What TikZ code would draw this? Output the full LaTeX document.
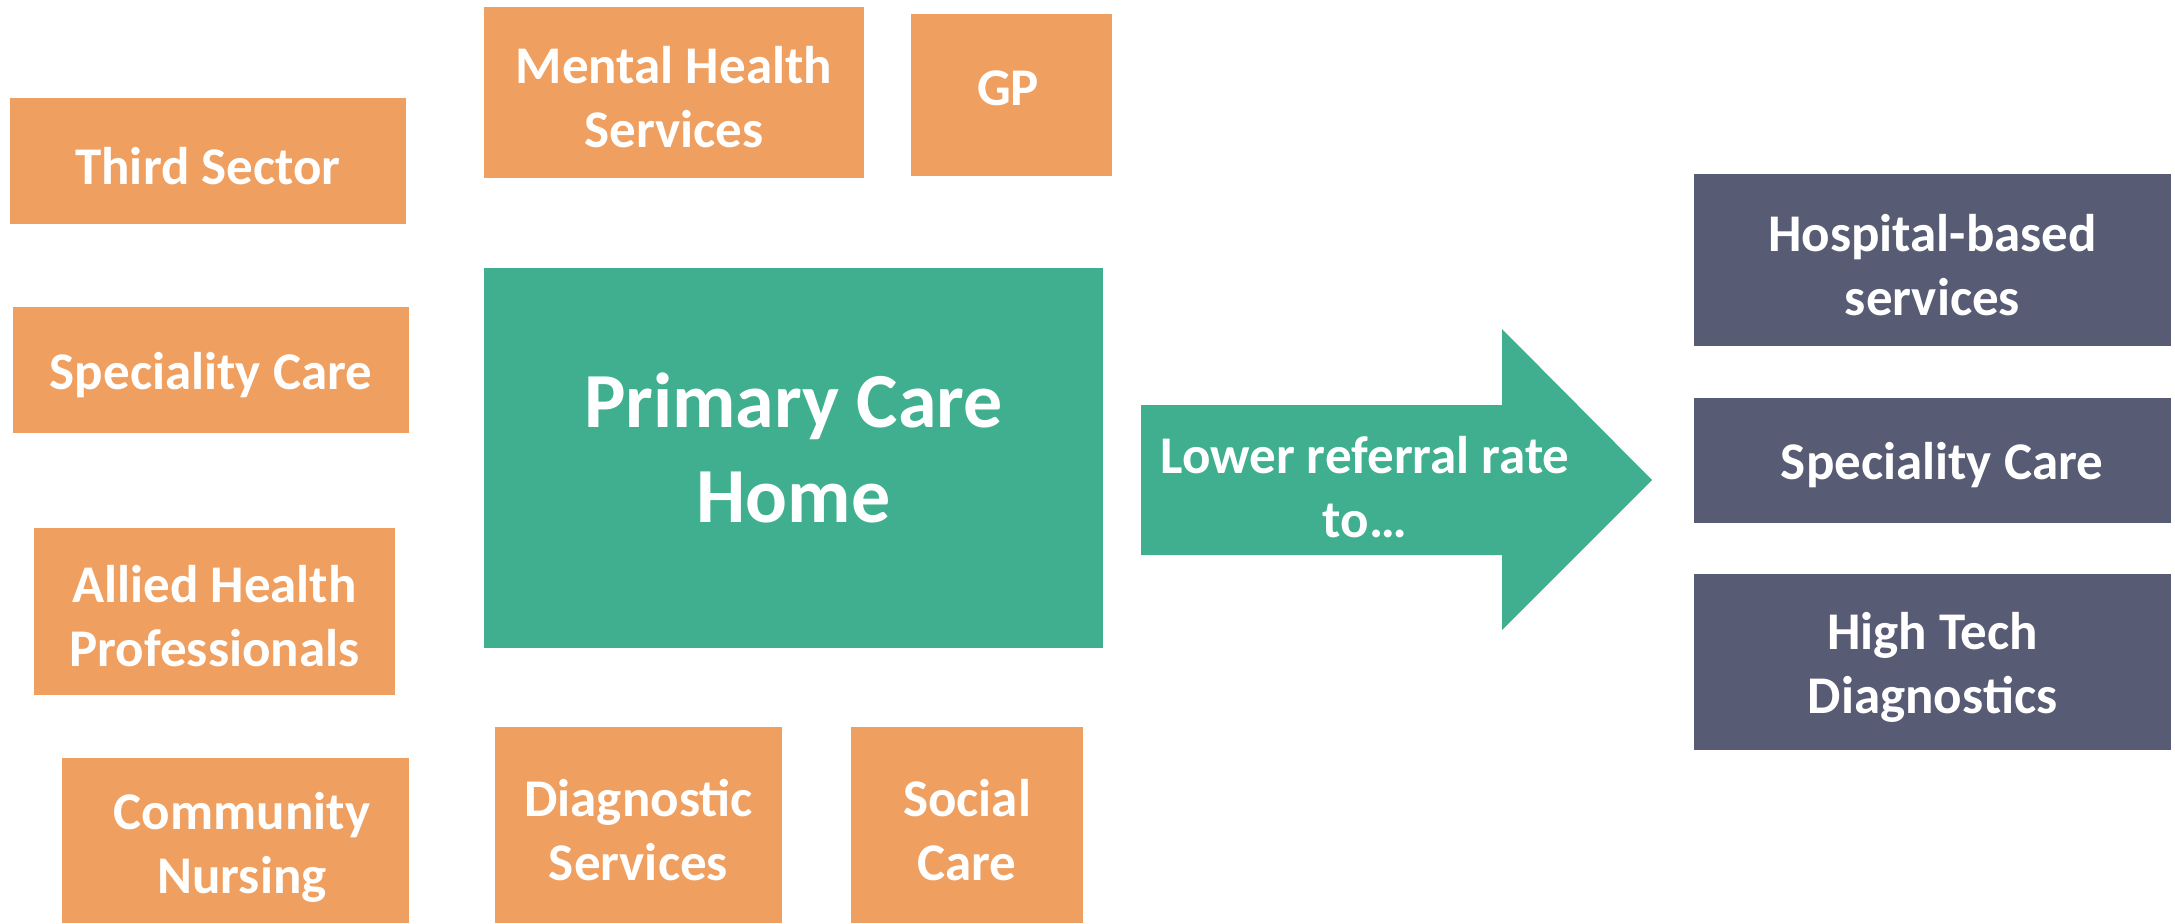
\documentclass[tikz,border=0pt]{standalone}
\usepackage{fontspec}
\setmainfont{Carlito}
\definecolor{orangebox}{HTML}{EF9F5F}
\definecolor{tealbox}{HTML}{40AF8F}
\definecolor{slatebox}{HTML}{575B74}
\begin{document}
\begin{tikzpicture}[x=0.5pt,y=-0.5pt,
  base/.style={inner sep=0pt, outer sep=0pt, text=white, align=center,
     font=\fontsize{26.5pt}{32pt}\selectfont\bfseries},
  lbl/.style={base, yshift=-2.5pt},
  obox/.style={base, fill=orangebox},
  dbox/.style={base, fill=slatebox},
  tbox/.style={base, fill=tealbox}]
\useasboundingbox (0,0) rectangle (2175,923);
% left column
\node[obox, minimum width=198pt, minimum height=63pt] (third) at (208,161) {};
\node[lbl] (thirdt) at (third) {Third Sector};
\node[obox, minimum width=198pt, minimum height=63pt] (specL) at (211,370) {};
\node[lbl] (specLt) at (specL) {Speciality Care};
\node[obox, minimum width=180.5pt, minimum height=83.5pt] (allied) at (214.5,611.5) {};
\node[lbl] (alliedt) at (allied) {Allied Health\\Professionals};
\node[obox, minimum width=173.5pt, minimum height=82.5pt] (comm) at (235.5,840.5) {};
\node[lbl] (commt) at (242,842) {Community\\Nursing};
% top
\node[obox, minimum width=190pt, minimum height=85.5pt] (mental) at (674,92.5) {};
\node[lbl] (mentalt) at (mental) {Mental Health\\Services};
\node[obox, minimum width=100.5pt, minimum height=81pt] (gp) at (1011.5,95) {};
\node[base] (gpt) at (1008,88) {GP};
% center
\node[tbox, minimum width=309.5pt, minimum height=190pt] (pch) at (793.5,458) {};
\node[base, font=\fontsize{39pt}{47.5pt}\selectfont\bfseries] (pcht) at (793.5,448) {Primary Care\\Home};
% bottom
\node[obox, minimum width=143.5pt, minimum height=98pt] (diag) at (638.5,825) {};
\node[lbl] (diagt) at (diag) {Diagnostic\\Services};
\node[obox, minimum width=116pt, minimum height=98pt] (social) at (967,825) {};
\node[lbl] (socialt) at (social) {Social\\Care};
% arrow
\coordinate (a1) at (1141,405);
\coordinate (a2) at (1502,405);
\coordinate (a3) at (1502,329);
\coordinate (tip) at (1652,480);
\coordinate (a5) at (1502,630);
\coordinate (a6) at (1502,555);
\coordinate (a7) at (1141,555);
\fill[tealbox] (a1) -- (a2) -- (a3) -- (tip) -- (a5) -- (a6) -- (a7) -- cycle;
\node[lbl] (arrowt) at (1365,482) {Lower referral rate\\to\ldots};
% right column
\node[dbox, minimum width=238.5pt, minimum height=86pt] (hosp) at (1932.5,260) {};
\node[lbl] (hospt) at (hosp) {Hospital-based\\services};
\node[dbox, minimum width=238.5pt, minimum height=62.5pt] (specR) at (1932.5,460.5) {};
\node[lbl] (specRt) at (1942,460.5) {Speciality Care};
\node[dbox, minimum width=238.5pt, minimum height=88pt] (htd) at (1932.5,662) {};
\node[lbl] (htdt) at (htd) {High Tech\\Diagnostics};
\end{tikzpicture}
\end{document}
